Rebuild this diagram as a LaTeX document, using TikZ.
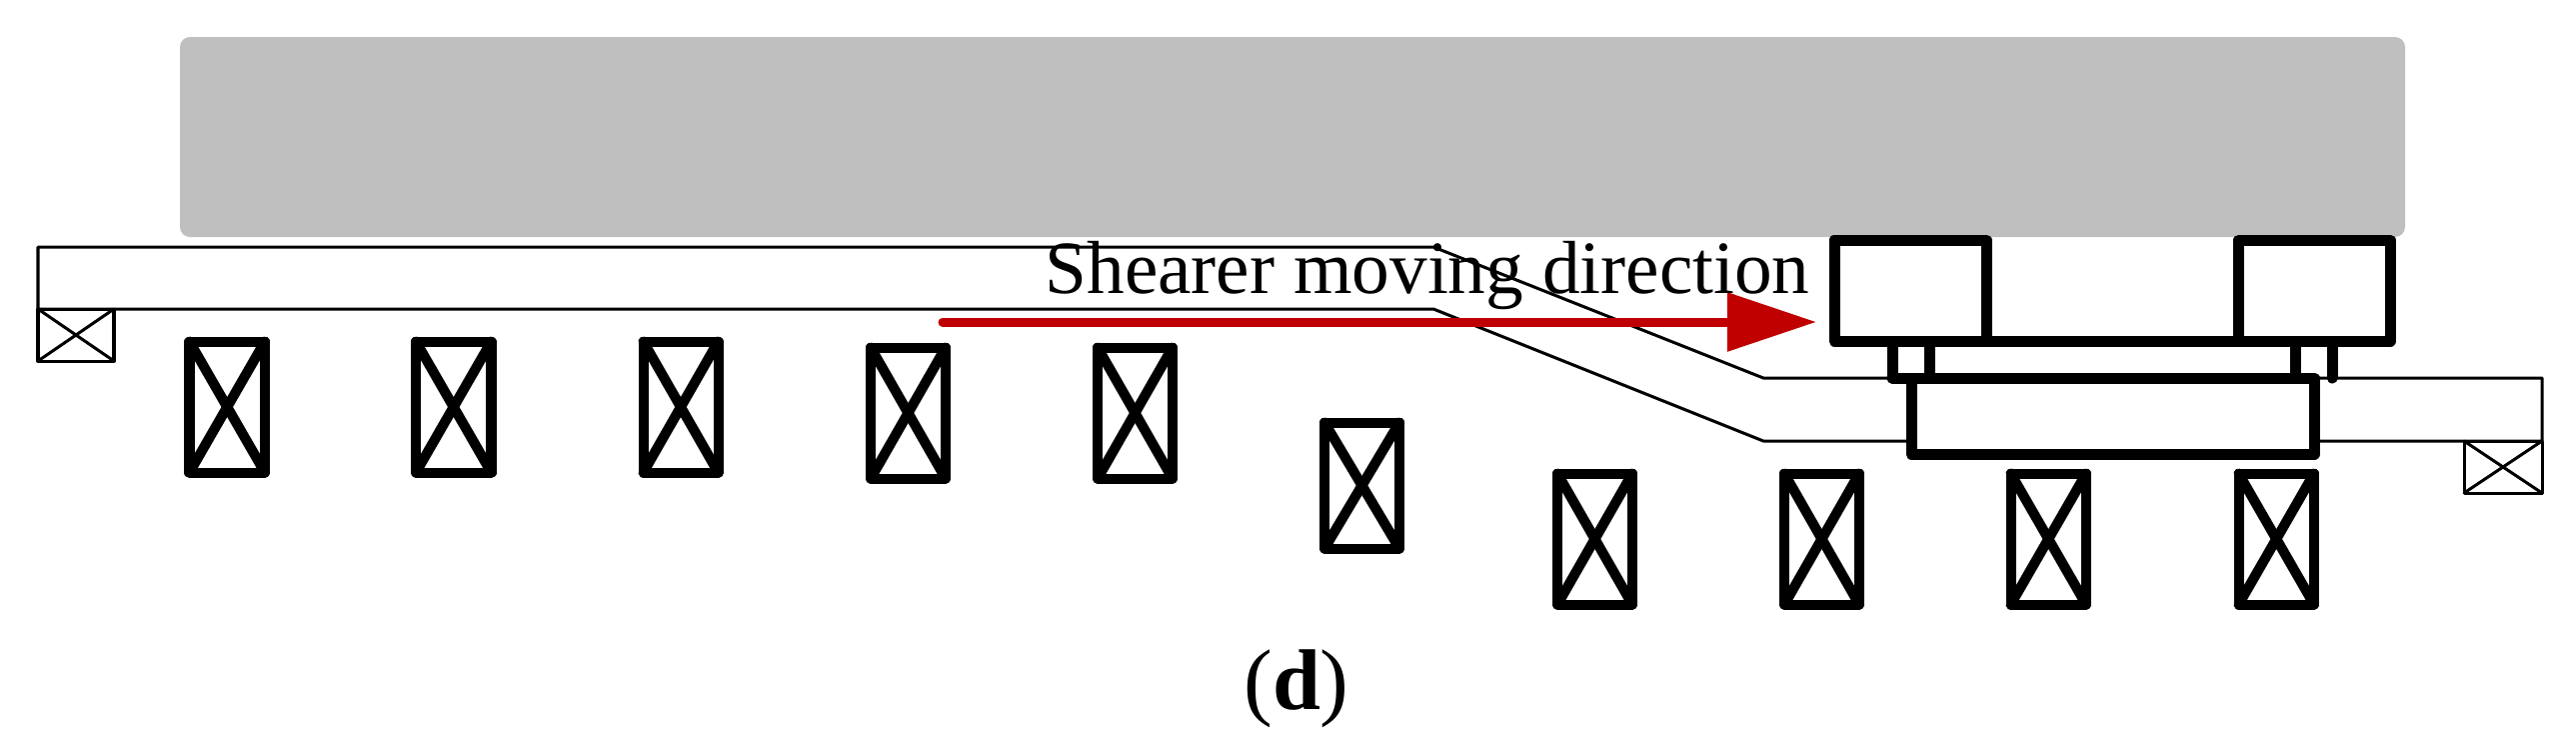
\documentclass[tikz,border=0pt]{standalone}
\usepackage{fontspec}
\setmainfont{Liberation Serif}
\usetikzlibrary{arrows.meta}
\definecolor{roofgray}{HTML}{BFBFBF}
\definecolor{arrowred}{HTML}{C00000}
\tikzset{
	conveyor/.style={line width=0.03cm},
	support/.style={line width=0.1cm},
	shearer/.style={line width=0.11cm},
	movearrow/.style={line width=0.09cm,color=arrowred,-{Triangle[length=0.89cm,width=0.57cm]}}
}
\begin{document}
\begin{tikzpicture}[line cap=round,line join=round,x=0.01cm,y=-0.01cm]
	\useasboundingbox (0,0) rectangle (2577,754);
	\fill [roofgray,rounded corners=0.1cm] (180,37) rectangle (2406,237);
	\draw [conveyor] (1434,247) -- (38,247) -- (38,309) -- (1434,309) -- (1764,441) -- (2543,441) -- (2543,378) -- (1764,378) -- cycle;
	\draw [conveyor] (38,309) rectangle (114,361);
	\draw [conveyor] (38,309) -- (114,361);
	\draw [conveyor] (114,309) -- (38,361);
	\draw [conveyor] (2465,441) rectangle (2543,493);
	\draw [conveyor] (2465,441) -- (2543,493);
	\draw [conveyor] (2543,441) -- (2465,493);
	\draw [support] (189.5,341.5) rectangle (265,472.5);
	\draw [support] (189.5,341.5) -- (265,472.5);
	\draw [support] (265,341.5) -- (189.5,472.5);
	\draw [support] (416,341.5) rectangle (491.5,472.5);
	\draw [support] (416,341.5) -- (491.5,472.5);
	\draw [support] (491.5,341.5) -- (416,472.5);
	\draw [support] (643.5,341.5) rectangle (718.5,472.5);
	\draw [support] (643.5,341.5) -- (718.5,472.5);
	\draw [support] (718.5,341.5) -- (643.5,472.5);
	\draw [support] (871,347.5) rectangle (946,478.5);
	\draw [support] (871,347.5) -- (946,478.5);
	\draw [support] (946,347.5) -- (871,478.5);
	\draw [support] (1098,347.5) rectangle (1173,478.5);
	\draw [support] (1098,347.5) -- (1173,478.5);
	\draw [support] (1173,347.5) -- (1098,478.5);
	\draw [support] (1325,422.5) rectangle (1400,548.5);
	\draw [support] (1325,422.5) -- (1400,548.5);
	\draw [support] (1400,422.5) -- (1325,548.5);
	\draw [support] (1558,473.5) rectangle (1633,604.5);
	\draw [support] (1558,473.5) -- (1633,604.5);
	\draw [support] (1633,473.5) -- (1558,604.5);
	\draw [support] (1785,473.5) rectangle (1860,604.5);
	\draw [support] (1785,473.5) -- (1860,604.5);
	\draw [support] (1860,473.5) -- (1785,604.5);
	\draw [support] (2011.5,473.5) rectangle (2087,604.5);
	\draw [support] (2011.5,473.5) -- (2087,604.5);
	\draw [support] (2087,473.5) -- (2011.5,604.5);
	\draw [support] (2239.5,473.5) rectangle (2315,604.5);
	\draw [support] (2239.5,473.5) -- (2315,604.5);
	\draw [support] (2315,473.5) -- (2239.5,604.5);
	\draw [shearer,fill=white] (1912,378) rectangle (2315,454);
	\draw [shearer] (1893,378) -- (2315,378);
	\draw [shearer] (1893,341) -- (1893,378);
	\draw [shearer] (1930,341) -- (1930,378);
	\draw [shearer] (2296,341) -- (2296,378);
	\draw [shearer] (2333,341) -- (2333,378);
	\draw [shearer,fill=white] (1835,240) rectangle (1987,341);
	\draw [shearer,fill=white] (2239.5,240) rectangle (2391,341);
	\draw [shearer] (1987,341) -- (2239.5,341);
	\draw [movearrow] (943,322) -- (1817,322);
	\node (direction) [anchor=base,inner sep=0pt,font=\fontsize{21.4pt}{24pt}\selectfont] at (1428,293.5) {Shearer moving direction};
	\node (caption) [anchor=base,inner sep=0pt,font=\fontsize{24.5pt}{28pt}\selectfont] at (1297,709) {(\textbf{d})};
\end{tikzpicture}
\end{document}
